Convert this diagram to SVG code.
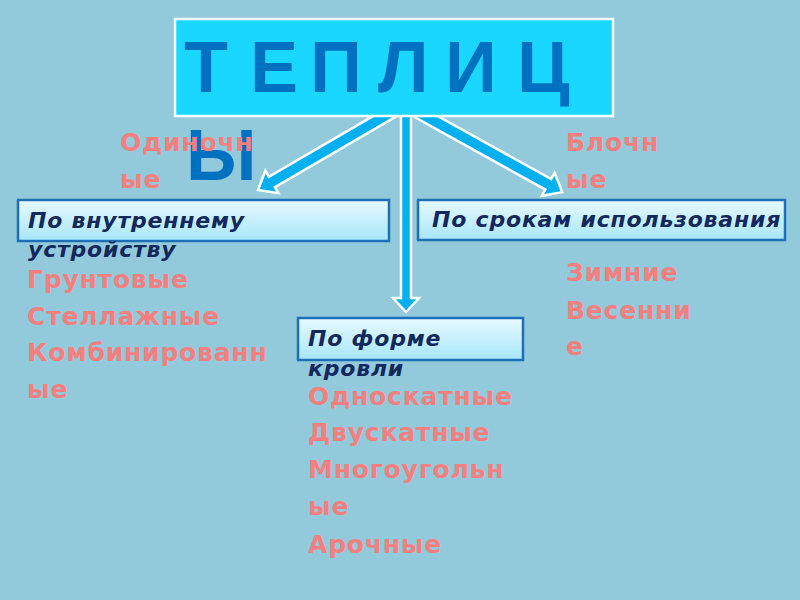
<svg xmlns="http://www.w3.org/2000/svg" width="800" height="600" viewBox="0 0 800 600">
<defs>
<linearGradient id="boxg" x1="0" y1="0" x2="0" y2="1">
<stop offset="0" stop-color="#E8FAFF"/>
<stop offset="1" stop-color="#A6E6FA"/>
</linearGradient>
<style>
.pink{font-family:"DejaVu Sans",sans-serif;font-weight:bold;font-size:25px;letter-spacing:0.8px;fill:#F47F7F;}
.lbl{font-family:"DejaVu Sans",sans-serif;font-weight:bold;font-style:italic;font-size:22px;letter-spacing:0.8px;fill:#13285C;}
.title{font-family:"Liberation Sans",Arial,sans-serif;font-weight:bold;font-size:72px;fill:#0070C0;}
.box{fill:url(#boxg);stroke:#1F6FB8;stroke-width:2.5;}
.arrow{fill:#00B0F0;stroke:#FFFFFF;stroke-width:2.5;stroke-linejoin:miter;}
</style>
</defs>
<rect x="0" y="0" width="800" height="600" fill="#93CADB"/>
<g id="connectors">
<path class="arrow" transform="translate(392,112) rotate(149.8)" d="M0,-6 L139,-6 L139,-13 L155,0 L139,13 L139,6 L0,6 Z"/>
<path class="arrow" transform="translate(418,112) rotate(29.05)" d="M0,-6 L149,-6 L149,-13 L165,0 L149,13 L149,6 L0,6 Z"/>
<path class="arrow" transform="translate(406,112) rotate(90)" d="M0,-5 L186,-5 L186,-13 L200,0 L186,13 L186,5 L0,5 Z"/>
</g>
<g id="title">
<rect x="175" y="19" width="438" height="97" fill="#19D7FF" stroke="#FFFFFF" stroke-width="2.5"/>
<text class="title" x="184 250 310 378 445 517" y="92">ТЕПЛИЦ</text>
<text class="title" x="186" y="180">Ы</text>
</g>
<g id="single">
<text class="pink" x="120" y="151">Одиночн</text>
<text class="pink" x="120" y="188">ые</text>
</g>
<g id="block">
<text class="pink" x="566" y="151">Блочн</text>
<text class="pink" x="566" y="188">ые</text>
</g>
<g id="internal">
<rect class="box" x="18" y="200" width="371" height="41"/>
<text class="lbl" x="28" y="228">По внутреннему</text>
<text class="lbl" x="28" y="257">устройству</text>
</g>
<g id="terms">
<rect class="box" x="418" y="200" width="367" height="40"/>
<text class="lbl" x="432" y="227">По срокам использования</text>
</g>
<g id="roof">
<rect class="box" x="298" y="318" width="225" height="42"/>
<text class="lbl" x="308" y="346">По форме</text>
<text class="lbl" x="308" y="376">кровли</text>
</g>
<g id="internal-list">
<text class="pink" x="27" y="288">Грунтовые</text>
<text class="pink" x="27" y="325">Стеллажные</text>
<text class="pink" x="27" y="361">Комбинированн</text>
<text class="pink" x="27" y="398">ые</text>
</g>
<g id="roof-list">
<text class="pink" x="308" y="405">Односкатные</text>
<text class="pink" x="308" y="441">Двускатные</text>
<text class="pink" x="308" y="478">Многоугольн</text>
<text class="pink" x="308" y="515">ые</text>
<text class="pink" x="308" y="553">Арочные</text>
</g>
<g id="terms-list">
<text class="pink" x="566" y="281">Зимние</text>
<text class="pink" x="566" y="319">Весенни</text>
<text class="pink" x="566" y="355">е</text>
</g>
</svg>
